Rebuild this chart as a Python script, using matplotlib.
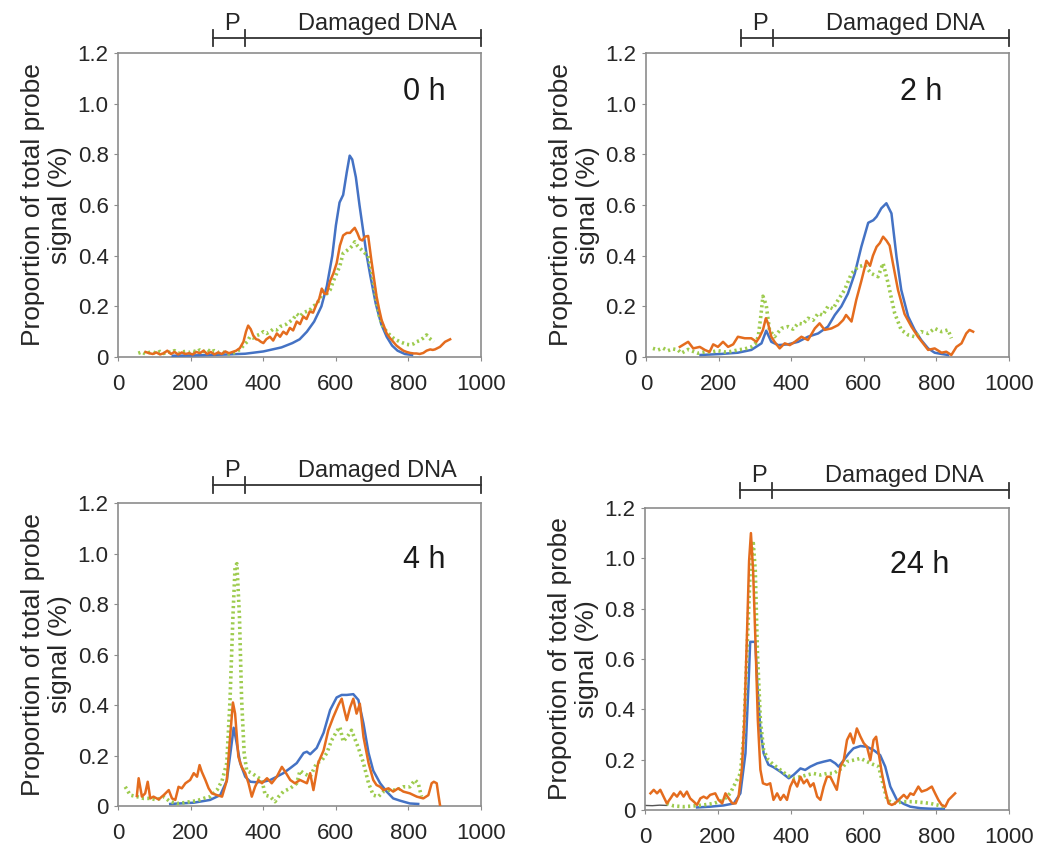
import matplotlib
matplotlib.use("Agg")
import matplotlib.pyplot as plt
import matplotlib.transforms as mtransforms

plt.rcParams['font.family'] = ['Liberation Sans', 'DejaVu Sans']

blueColor = '#4472C4'
orangeColor = '#E46C1E'
greenColor = '#9DCB4E'
axisColor = '#8c8c8c'
textColor = '#262626'

# tick labels
xTicks = [0, 200, 400, 600, 800, 1000]
yTicks = [0, 0.2, 0.4, 0.6, 0.8, 1.0, 1.2]
yTickLabels = ['0', '0.2', '0.4', '0.6', '0.8', '1.0', '1.2']
panelLabels = ['0 h', '2 h', '4 h', '24 h']

# region brackets above each panel
bracketStart = 261
bracketMid = 349
bracketEnd = 1000

# ---------------- 0 h ----------------
blueX_0h = [150, 200, 250, 300, 350, 400, 450, 480, 500, 520, 540, 560, 575, 590, 600, 610, 620, 630,
            638, 645, 655, 665, 675, 685, 695, 710, 725, 740, 755, 770, 790, 810]
blueY_0h = [0.005, 0.006, 0.008, 0.01, 0.013, 0.022, 0.038, 0.055, 0.07, 0.1, 0.14, 0.2, 0.28, 0.4,
            0.52, 0.61, 0.64, 0.73, 0.795, 0.78, 0.71, 0.6, 0.5, 0.4, 0.32, 0.21, 0.13, 0.08, 0.045,
            0.025, 0.012, 0.008]

orangeX_0h = [75, 85, 95, 105, 115, 125, 135, 145, 155, 165, 175, 185, 195, 205, 215, 225, 235, 245,
              255, 265, 275, 285, 295, 305, 315, 325, 335, 345, 352, 358, 365, 372, 380, 386, 393, 400,
              408, 418, 427, 437, 446, 455, 464, 473, 482, 492, 501, 510, 519, 528, 537, 547, 554, 561,
              568, 575, 584, 593, 602, 611, 620, 630, 639, 645, 652, 659, 666, 673, 680, 689, 698, 705,
              712, 719, 726, 733, 740, 749, 758, 767, 777, 786, 795, 805, 815, 822, 831, 841, 850, 860,
              867, 873, 880, 887, 894, 901, 908, 915]
orangeY_0h = [0.02, 0.015, 0.012, 0.018, 0.01, 0.015, 0.025, 0.012, 0.02, 0.01, 0.018, 0.012, 0.015,
              0.01, 0.02, 0.015, 0.025, 0.012, 0.02, 0.01, 0.018, 0.012, 0.022, 0.015, 0.02, 0.025,
              0.035, 0.06, 0.1, 0.124, 0.11, 0.085, 0.07, 0.068, 0.06, 0.055, 0.07, 0.08, 0.065, 0.093,
              0.08, 0.1, 0.09, 0.115, 0.105, 0.14, 0.13, 0.16, 0.15, 0.18, 0.175, 0.21, 0.23, 0.27, 0.25,
              0.25, 0.3, 0.33, 0.37, 0.44, 0.48, 0.49, 0.49, 0.5, 0.51, 0.49, 0.465, 0.46, 0.475, 0.478,
              0.38, 0.31, 0.24, 0.19, 0.146, 0.12, 0.093, 0.075, 0.06, 0.045, 0.034, 0.025, 0.02, 0.016,
              0.014, 0.014, 0.012, 0.016, 0.025, 0.03, 0.028, 0.03, 0.035, 0.04, 0.05, 0.06, 0.065, 0.07]

greenX_0h = [55, 65, 75, 85, 95, 105, 115, 125, 135, 145, 155, 165, 175, 185, 195, 205, 215, 225, 235,
             245, 255, 265, 275, 285, 295, 305, 315, 325, 335, 345, 355, 363, 372, 382, 391, 400, 409,
             418, 427, 437, 446, 455, 464, 473, 482, 492, 501, 510, 519, 528, 537, 547, 556, 565, 575,
             584, 593, 602, 611, 620, 630, 639, 646, 652, 659, 666, 673, 680, 689, 698, 705, 712, 720,
             730, 740, 750, 758, 767, 777, 786, 795, 805, 814, 822, 831, 841, 850, 857, 864, 870]
greenY_0h = [0.015, 0.02, 0.012, 0.018, 0.02, 0.015, 0.022, 0.014, 0.02, 0.018, 0.025, 0.015, 0.02,
             0.022, 0.018, 0.025, 0.02, 0.028, 0.022, 0.03, 0.02, 0.025, 0.018, 0.022, 0.015, 0.012,
             0.015, 0.02, 0.03, 0.045, 0.06, 0.08, 0.075, 0.085, 0.09, 0.1, 0.093, 0.1, 0.11, 0.107,
             0.12, 0.125, 0.13, 0.14, 0.15, 0.17, 0.16, 0.175, 0.18, 0.185, 0.2, 0.21, 0.23, 0.26, 0.25,
             0.265, 0.3, 0.33, 0.36, 0.41, 0.42, 0.43, 0.44, 0.455, 0.44, 0.43, 0.42, 0.41, 0.4, 0.34,
             0.28, 0.22, 0.16, 0.12, 0.1, 0.085, 0.075, 0.067, 0.06, 0.055, 0.05, 0.048, 0.052, 0.06,
             0.065, 0.075, 0.087, 0.075, 0.067, 0.06]

# ---------------- 2 h ----------------
blueX_2h = [150, 207, 253, 290, 318, 331, 345, 364, 391, 419, 446, 474, 501, 520, 538, 556, 575, 593,
            612, 626, 635, 648, 662, 676, 690, 703, 722, 740, 758, 777, 795, 814, 832]
blueY_2h = [0.008, 0.012, 0.017, 0.028, 0.054, 0.104, 0.06, 0.047, 0.05, 0.06, 0.08, 0.093, 0.12,
            0.166, 0.2, 0.25, 0.33, 0.435, 0.53, 0.54, 0.554, 0.587, 0.607, 0.567, 0.395, 0.265, 0.16,
            0.107, 0.067, 0.034, 0.017, 0.012, 0.008]

orangeX_2h = [93, 116, 130, 148, 162, 175, 185, 198, 212, 226, 240, 253, 272, 290, 304, 313, 322, 330,
              336, 345, 354, 368, 382, 396, 410, 428, 446, 465, 478, 492, 511, 529, 543, 551, 566, 579,
              593, 607, 617, 625, 635, 644, 653, 662, 671, 680, 694, 712, 731, 749, 763, 777, 795, 814,
              827, 841, 855, 869, 882, 891, 901]
orangeY_2h = [0.04, 0.06, 0.034, 0.04, 0.028, 0.02, 0.05, 0.04, 0.06, 0.04, 0.05, 0.08, 0.074, 0.074,
              0.06, 0.08, 0.107, 0.153, 0.133, 0.08, 0.06, 0.034, 0.054, 0.047, 0.06, 0.08, 0.067,
              0.113, 0.133, 0.107, 0.113, 0.126, 0.146, 0.166, 0.14, 0.225, 0.3, 0.38, 0.36, 0.4, 0.435,
              0.45, 0.475, 0.46, 0.44, 0.37, 0.265, 0.17, 0.12, 0.08, 0.054, 0.028, 0.034, 0.017, 0.021,
              0.008, 0.04, 0.054, 0.093, 0.107, 0.1]

greenX_2h = [19, 33, 47, 60, 74, 88, 97, 116, 130, 143, 162, 180, 198, 217, 235, 253, 272, 290, 300,
             309, 316, 322, 331, 340, 354, 373, 391, 405, 419, 432, 446, 460, 474, 487, 501, 515, 529,
             547, 566, 584, 602, 620, 639, 653, 667, 685, 703, 722, 740, 758, 777, 795, 814, 832, 841]
greenY_2h = [0.034, 0.028, 0.035, 0.025, 0.032, 0.028, 0.015, 0.03, 0.022, 0.015, 0.02, 0.02, 0.025,
             0.02, 0.022, 0.028, 0.032, 0.04, 0.05, 0.08, 0.16, 0.24, 0.205, 0.107, 0.08, 0.113, 0.12,
             0.11, 0.133, 0.13, 0.153, 0.145, 0.172, 0.165, 0.2, 0.19, 0.225, 0.265, 0.33, 0.356,
             0.363, 0.33, 0.317, 0.37, 0.29, 0.172, 0.107, 0.087, 0.08, 0.1, 0.093, 0.113, 0.1, 0.107,
             0.074]

# ---------------- 4 h ----------------
blueX_4h = [143, 208, 253, 281, 299, 310, 318, 325, 336, 350, 364, 382, 400, 419, 437, 455, 474, 492,
            511, 520, 529, 547, 566, 584, 602, 616, 630, 648, 662, 676, 690, 703, 722, 740, 758, 777,
            804, 827]
blueY_4h = [0.008, 0.013, 0.024, 0.043, 0.1, 0.22, 0.31, 0.26, 0.17, 0.116, 0.096, 0.094, 0.096,
            0.103, 0.116, 0.13, 0.15, 0.17, 0.21, 0.215, 0.205, 0.23, 0.29, 0.38, 0.43, 0.44, 0.44,
            0.443, 0.42, 0.327, 0.21, 0.14, 0.09, 0.057, 0.03, 0.021, 0.01, 0.008]

orangeX_4h = [51, 56, 65, 74, 81, 88, 97, 111, 125, 139, 148, 157, 166, 175, 185, 198, 208, 217, 224,
              230, 240, 249, 258, 272, 286, 299, 308, 316, 322, 331, 340, 350, 359, 368, 377, 386, 396,
              410, 423, 437, 451, 460, 474, 487, 501, 520, 529, 538, 551, 566, 579, 593, 607, 616, 623,
              630, 639, 648, 657, 666, 676, 690, 703, 712, 722, 731, 745, 758, 772, 786, 804, 823, 841,
              855, 864, 870, 878, 882, 887]
orangeY_4h = [0.04, 0.11, 0.037, 0.05, 0.096, 0.03, 0.037, 0.026, 0.043, 0.063, 0.03, 0.024, 0.076,
              0.07, 0.09, 0.103, 0.13, 0.116, 0.162, 0.136, 0.103, 0.07, 0.05, 0.043, 0.037, 0.1, 0.27,
              0.41, 0.366, 0.195, 0.155, 0.13, 0.09, 0.037, 0.076, 0.103, 0.09, 0.11, 0.09, 0.116,
              0.155, 0.136, 0.103, 0.09, 0.103, 0.09, 0.13, 0.063, 0.17, 0.22, 0.3, 0.353, 0.4, 0.425,
              0.38, 0.34, 0.39, 0.425, 0.366, 0.405, 0.274, 0.17, 0.103, 0.083, 0.076, 0.063, 0.07,
              0.057, 0.07, 0.057, 0.05, 0.037, 0.03, 0.043, 0.09, 0.096, 0.09, 0.05, 0.004]

greenX_4h = [19, 33, 51, 70, 88, 106, 125, 143, 162, 180, 198, 217, 235, 253, 272, 286, 299, 308, 316,
             322, 327, 334, 340, 347, 354, 368, 382, 396, 405, 419, 432, 442, 455, 474, 492, 501, 511,
             529, 547, 561, 575, 588, 602, 611, 620, 634, 643, 652, 662, 676, 690, 703, 717, 731, 749,
             768, 786, 804, 818, 827, 836]
greenY_4h = [0.076, 0.043, 0.037, 0.03, 0.03, 0.024, 0.037, 0.017, 0.01, 0.013, 0.017, 0.021, 0.03,
             0.037, 0.063, 0.1, 0.17, 0.42, 0.75, 0.95, 0.96, 0.75, 0.42, 0.21, 0.14, 0.13, 0.116,
             0.103, 0.043, 0.037, 0.017, 0.037, 0.057, 0.07, 0.09, 0.14, 0.13, 0.116, 0.17, 0.18, 0.21,
             0.26, 0.295, 0.313, 0.255, 0.28, 0.3, 0.267, 0.23, 0.17, 0.09, 0.043, 0.037, 0.057, 0.063,
             0.063, 0.076, 0.076, 0.103, 0.09, 0.037]

# ---------------- 24 h ----------------
blueX_24h = [143, 179, 216, 244, 262, 276, 285, 289, 303, 309, 317, 326, 339, 353, 372, 395, 408, 427,
             440, 454, 473, 491, 509, 523, 532, 546, 560, 573, 592, 610, 628, 646, 660, 674, 692, 711,
             729, 757, 784, 821]
blueY_24h = [0.01, 0.013, 0.018, 0.026, 0.066, 0.225, 0.52, 0.668, 0.668, 0.49, 0.317, 0.225, 0.18,
             0.17, 0.152, 0.126, 0.139, 0.165, 0.159, 0.172, 0.185, 0.192, 0.198, 0.185, 0.172, 0.198,
             0.225, 0.245, 0.254, 0.251, 0.238, 0.218, 0.172, 0.093, 0.04, 0.024, 0.013, 0.007, 0.005,
             0.004]

orangeX_24h = [15, 24, 33, 42, 51, 60, 70, 79, 88, 97, 106, 115, 124, 134, 143, 152, 161, 170, 179,
               193, 202, 212, 221, 230, 240, 249, 257, 266, 273, 280, 286, 291, 297, 303, 310, 317,
               324, 335, 344, 353, 363, 372, 381, 390, 399, 408, 418, 427, 436, 445, 454, 463, 473,
               482, 491, 500, 509, 518, 527, 537, 546, 555, 564, 573, 582, 592, 601, 610, 619, 628,
               635, 642, 651, 660, 669, 678, 687, 701, 711, 720, 729, 738, 751, 760, 774, 788, 797,
               806, 815, 825, 834, 843, 852]
orangeY_24h = [0.066, 0.08, 0.066, 0.08, 0.053, 0.026, 0.046, 0.066, 0.053, 0.073, 0.053, 0.073,
               0.046, 0.033, 0.02, 0.046, 0.053, 0.046, 0.06, 0.066, 0.04, 0.026, 0.066, 0.046, 0.026,
               0.026, 0.053, 0.16, 0.357, 0.69, 0.99, 1.1, 0.95, 0.69, 0.357, 0.16, 0.106, 0.1, 0.106,
               0.04, 0.066, 0.04, 0.06, 0.04, 0.093, 0.12, 0.093, 0.132, 0.106, 0.12, 0.093, 0.106,
               0.053, 0.04, 0.093, 0.132, 0.132, 0.106, 0.08, 0.172, 0.198, 0.278, 0.304, 0.265, 0.324,
               0.291, 0.265, 0.251, 0.198, 0.278, 0.291, 0.225, 0.145, 0.08, 0.026, 0.02, 0.026, 0.046,
               0.06, 0.046, 0.066, 0.06, 0.093, 0.073, 0.08, 0.093, 0.066, 0.04, 0.02, 0.013, 0.04,
               0.053, 0.066]

greenX_24h = [60, 79, 106, 134, 161, 189, 216, 234, 248, 262, 271, 280, 289, 297, 303, 309, 317, 326,
              339, 353, 372, 390, 408, 427, 445, 463, 482, 500, 518, 532, 541, 555, 573, 592, 610, 628,
              642, 651, 665, 683, 711, 738, 766, 784, 802, 821]
greenY_24h = [0.026, 0.016, 0.013, 0.016, 0.02, 0.026, 0.04, 0.066, 0.106, 0.145, 0.29, 0.62, 0.95,
              1.07, 0.95, 0.62, 0.357, 0.238, 0.198, 0.18, 0.159, 0.139, 0.126, 0.132, 0.139, 0.145,
              0.139, 0.145, 0.145, 0.159, 0.165, 0.192, 0.198, 0.205, 0.192, 0.18, 0.172, 0.12, 0.04,
              0.026, 0.033, 0.033, 0.029, 0.026, 0.02, 0.013]

grayX_24h = [0, 20, 40, 60]
grayY_24h = [0.018, 0.017, 0.019, 0.018]

panels = [
  (blueX_0h, blueY_0h, orangeX_0h, orangeY_0h, greenX_0h, greenY_0h),
  (blueX_2h, blueY_2h, orangeX_2h, orangeY_2h, greenX_2h, greenY_2h),
  (blueX_4h, blueY_4h, orangeX_4h, orangeY_4h, greenX_4h, greenY_4h),
  (blueX_24h, blueY_24h, orangeX_24h, orangeY_24h, greenX_24h, greenY_24h),
]

# layout (figure fractions) and annotation placement
rects = [[0.1139, 0.578, 0.349, 0.3593], [0.6218, 0.578, 0.3494, 0.3593],
         [0.1139, 0.0473, 0.349, 0.358], [0.6208, 0.0426, 0.3503, 0.357]]
bracketLift = [0.049, 0.049, 0.059, 0.058]
labelPos = [(845, 1.046), (757, 1.046), (845, 0.974), (755, 0.973)]


def drawBracket(ax, lift):
  trans = mtransforms.blended_transform_factory(ax.transData, ax.transAxes)
  yBar = 1 + lift
  tick = 0.026
  ax.plot([bracketStart, bracketEnd], [yBar, yBar], color='#333333', lw=1.3,
          transform=trans, clip_on=False)
  for xv in [bracketStart, bracketMid, bracketEnd]:
    ax.plot([xv, xv], [yBar - tick, yBar + tick], color='#333333', lw=1.3,
            transform=trans, clip_on=False)
  ax.text(313, yBar + 0.01, 'P', transform=trans, ha='center', va='bottom',
          fontsize=17, color=textColor)
  ax.text(713, yBar + 0.01, 'Damaged DNA', transform=trans, ha='center', va='bottom',
          fontsize=17, color=textColor)


def main():
  fig = plt.figure(figsize=(10.39, 8.46), dpi=100)
  for i, (bx, by, ox, oy, gx, gy) in enumerate(panels):
    ax = fig.add_axes(rects[i])
    ax.plot(bx, by, color=blueColor, lw=1.8, zorder=3)
    ax.plot(gx, gy, color=greenColor, lw=2.6, ls=(0, (0.6, 0.9)), zorder=4)
    ax.plot(ox, oy, color=orangeColor, lw=1.8, zorder=5)
    if i == 3:
      ax.plot(grayX_24h, grayY_24h, color='#555555', lw=1.0, zorder=2)

    ax.set_xlim(0, 1000)
    ax.set_ylim(0, 1.2)
    ax.set_xticks(xTicks)
    ax.set_yticks(yTicks)
    ax.set_yticklabels(yTickLabels)
    for s in ax.spines.values():
      s.set_color(axisColor)
      s.set_linewidth(1.2)
    ax.tick_params(axis='both', direction='out', length=3, color=axisColor,
                   labelsize=16, labelcolor=textColor)
    ax.tick_params(axis='x', pad=9)
    ax.tick_params(axis='y', pad=4)
    ax.set_ylabel('Proportion of total probe\nsignal (%)', fontsize=19,
                  color=textColor, labelpad=4, linespacing=1.15)

    lx, ly = labelPos[i]
    ax.text(lx, ly, panelLabels[i], ha='center', va='center', fontsize=22, color='#1a1a1a')
    drawBracket(ax, bracketLift[i])

  fig.savefig('out.png', dpi=100)


if __name__ == '__main__':
  main()
